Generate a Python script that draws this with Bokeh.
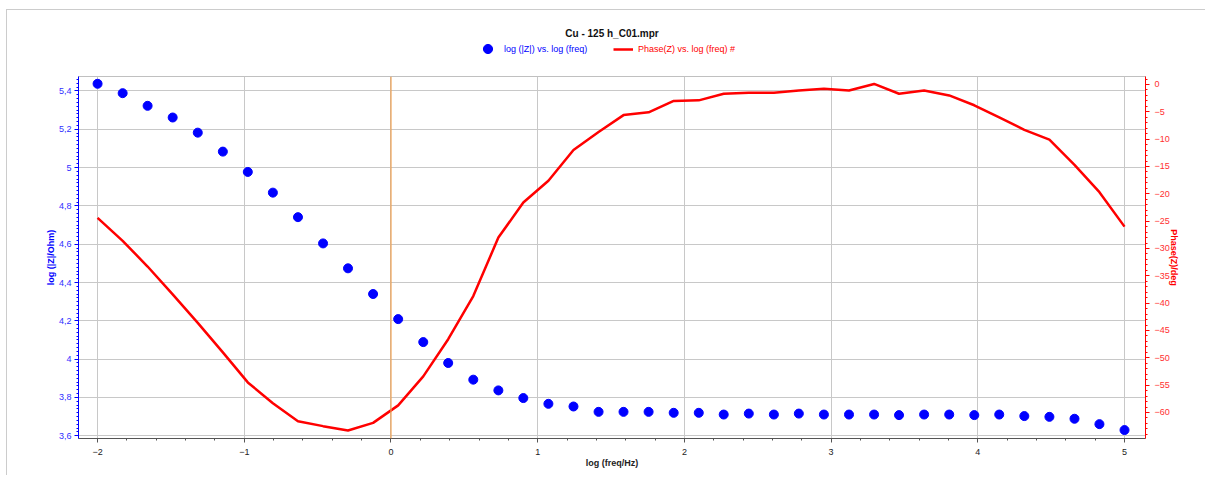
from bokeh.plotting import figure
from bokeh.layouts import column
from bokeh.models import (Range1d, LinearAxis, SingleIntervalTicker, Span, Legend,
                          LegendItem, CustomJSTickFormatter)
from bokeh.embed import file_html
from bokeh.resources import INLINE

# ---------------- data ----------------
log_freq = [-2.000, -1.829, -1.659, -1.488, -1.317, -1.146, -0.976, -0.805, -0.634, -0.463,
            -0.293, -0.122, 0.049, 0.220, 0.390, 0.561, 0.732, 0.902, 1.073, 1.244,
            1.415, 1.585, 1.756, 1.927, 2.098, 2.268, 2.439, 2.610, 2.780, 2.951,
            3.122, 3.293, 3.463, 3.634, 3.805, 3.976, 4.146, 4.317, 4.488, 4.659,
            4.829, 5.000]
log_modz = [5.437, 5.388, 5.322, 5.261, 5.182, 5.083, 4.977, 4.869, 4.741, 4.604,
            4.474, 4.340, 4.209, 4.089, 3.980, 3.893, 3.837, 3.797, 3.767, 3.753,
            3.725, 3.725, 3.725, 3.720, 3.720, 3.711, 3.716, 3.711, 3.716, 3.711,
            3.711, 3.711, 3.708, 3.711, 3.711, 3.708, 3.711, 3.703, 3.699, 3.689,
            3.661, 3.630]
phase = [-24.4, -28.6, -33.3, -38.4, -43.6, -49.0, -54.5, -58.3, -61.6, -62.5,
         -63.3, -61.9, -58.7, -53.4, -46.6, -38.7, -28.0, -21.6, -17.6, -12.0,
         -8.7, -5.6, -5.1, -3.0, -2.9, -1.7, -1.5, -1.5, -1.1, -0.8,
         -1.1, 0.1, -1.7, -1.1, -2.0, -3.8, -6.0, -8.3, -10.1, -14.7,
         -19.7, -26.0]

title_text = "Cu - 125 h_C01.mpr"
x_label = "log (freq/Hz)"
y_label = "log (|Z|/Ohm)"
y2_label = "Phase(Z)/deg"
legend_mod = "log (|Z|) vs. log (freq)"
legend_phase = "Phase(Z) vs. log (freq) #"

FONT = "Liberation Sans"
BLUE = "#0000ff"
RED = "#ff0000"
GRID = "#c8c8c8"
W = 1198

# ---------------- header strip (title + legend) ----------------
# the strip's ranges lie outside the data, so only the legend samples show
head = figure(width=W, height=52, output_backend="svg", toolbar_location=None,
              x_axis_type=None, y_axis_type=None, x_range=Range1d(10, 11),
              y_range=Range1d(10, 11), min_border_left=71, min_border_right=60,
              min_border_top=28, min_border_bottom=0, outline_line_color=None)
head.xgrid.visible = False
head.ygrid.visible = False
head.title.text = title_text
head.title.align = "center"
head.title.text_font = FONT
head.title.text_font_size = "10px"
head.title.text_font_style = "bold"
head.title.text_color = "#111111"
head.title.standoff = 0

h_mod = head.scatter(log_freq, log_modz, size=9, color=BLUE)
h_ph = head.line(log_freq, phase, line_color=RED, line_width=2.5)

common = dict(orientation="horizontal", padding=0, margin=0, spacing=0,
              border_line_color=None, background_fill_alpha=0,
              label_text_font=FONT, label_text_font_size="9px")
leg1 = Legend(items=[LegendItem(label=legend_mod, renderers=[h_mod])],
              location=(398, 2), label_text_color=BLUE, label_standoff=5,
              glyph_width=23, glyph_height=23, **common)
leg2 = Legend(items=[LegendItem(label=legend_phase, renderers=[h_ph])],
              location=(535, 5), label_text_color=RED, label_standoff=5,
              glyph_width=20, glyph_height=16, **common)
head.add_layout(leg1)
head.add_layout(leg2)

# ---------------- main chart ----------------
p = figure(width=W, height=413, output_backend="svg", toolbar_location=None,
           x_range=Range1d(-2.13, 5.143), y_range=Range1d(3.586, 5.475),
           min_border_left=71, min_border_right=60, min_border_top=14,
           min_border_bottom=37)
p.extra_y_ranges = {"phase": Range1d(-64.76, 1.46)}

p.outline_line_color = "#c0c0c0"
p.xgrid.grid_line_color = GRID
p.ygrid.grid_line_color = GRID

# x axis
xa = p.xaxis[0]
xa.ticker = SingleIntervalTicker(interval=1, num_minor_ticks=5)
xa.axis_label = x_label
xa.axis_label_text_font = FONT
xa.axis_label_text_font_size = "9px"
xa.axis_label_text_font_style = "bold"
xa.axis_label_text_color = "#222222"
xa.axis_label_standoff = 0
xa.major_label_text_font = FONT
xa.major_label_text_font_size = "9px"
xa.major_label_text_color = "#222222"
xa.major_label_standoff = 6
xa.axis_line_color = "#555555"
xa.major_tick_line_color = "#555555"
xa.minor_tick_line_color = "#555555"
xa.major_tick_in = 0
xa.major_tick_out = 4
xa.minor_tick_in = 0
xa.minor_tick_out = 2

# left y axis
ya = p.yaxis[0]
ya.ticker = SingleIntervalTicker(interval=0.2, num_minor_ticks=10)
ya.formatter = CustomJSTickFormatter(
    code="var s = (Math.round(tick*10)/10).toString(); return s.replace('.', ',');")
ya.axis_label = y_label
ya.axis_label_text_font = FONT
ya.axis_label_text_font_size = "9px"
ya.axis_label_text_font_style = "bold"
ya.axis_label_text_color = BLUE
ya.axis_label_standoff = 0
ya.major_label_text_font = FONT
ya.major_label_text_font_size = "9px"
ya.major_label_text_color = "#3030ff"
ya.major_label_standoff = 3
ya.axis_line_color = BLUE
ya.major_tick_line_color = BLUE
ya.minor_tick_line_color = BLUE
ya.major_tick_in = 0
ya.major_tick_out = 4
ya.minor_tick_in = 0
ya.minor_tick_out = 2

# right y axis
ra = LinearAxis(y_range_name="phase",
                ticker=SingleIntervalTicker(interval=5, num_minor_ticks=5))
ra.axis_label = y2_label
ra.axis_label_text_font = FONT
ra.axis_label_text_font_size = "9px"
ra.axis_label_text_font_style = "bold"
ra.axis_label_text_color = RED
ra.axis_label_standoff = -4
ra.major_label_text_font = FONT
ra.major_label_text_font_size = "9px"
ra.major_label_text_color = "#ff3030"
ra.major_label_standoff = 5
ra.axis_line_color = RED
ra.major_tick_line_color = RED
ra.minor_tick_line_color = RED
ra.major_tick_in = 0
ra.major_tick_out = 4
ra.minor_tick_in = 0
ra.minor_tick_out = 2
p.add_layout(ra, "right")

# vertical marker at 0
p.add_layout(Span(location=0, dimension="height", line_color="#f0a050", line_width=1.2))

# data
p.scatter(log_freq, log_modz, size=9, color=BLUE)
p.line(log_freq, phase, y_range_name="phase", line_color=RED, line_width=2.5)

layout = column(head, p, spacing=0,
                styles={"margin-top": "9px", "margin-left": "6px",
                        "border-top": "1px solid #cccccc",
                        "border-left": "1px solid #cccccc"})
open("out.html", "w").write(file_html(layout, INLINE))
